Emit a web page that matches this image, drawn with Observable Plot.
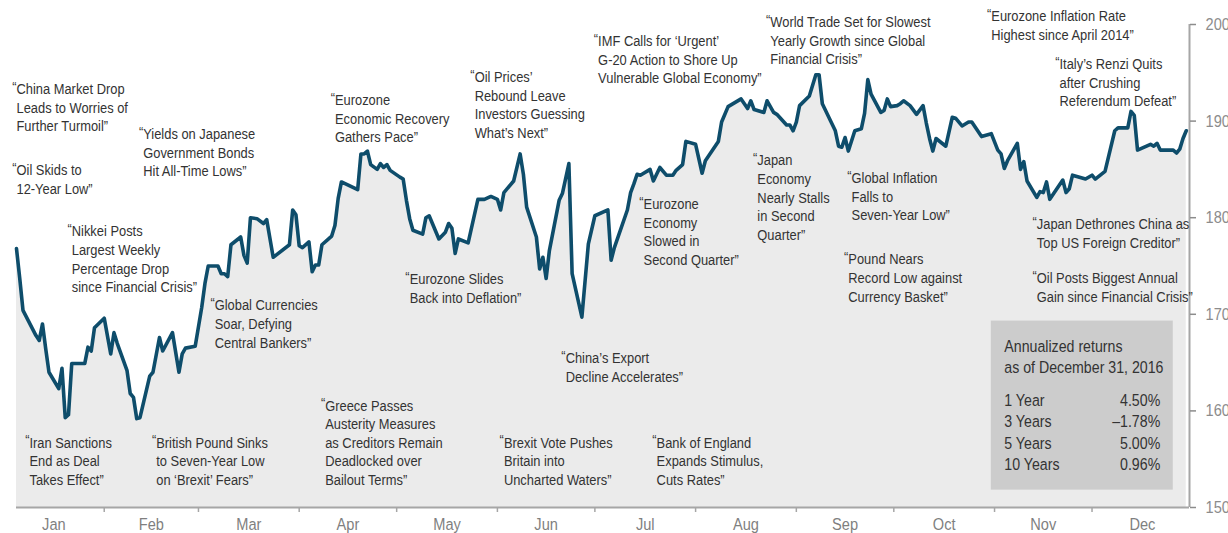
<!DOCTYPE html>
<html>
<head>
<meta charset="utf-8">
<script src="https://cdn.jsdelivr.net/npm/d3@7"></script>
<script src="https://cdn.jsdelivr.net/npm/@observablehq/plot@0.6"></script>
<style>
  html, body { margin: 0; padding: 0; background: #fff; }
  #chart svg { display: block; }
</style>
</head>
<body>
<div id="chart"></div>
<script>
// ---- Series (index level, 2016) ----
const dates = [
  "2016-01-05","2016-01-06","2016-01-07","2016-01-11","2016-01-12","2016-01-13","2016-01-14","2016-01-15",
  "2016-01-18","2016-01-19","2016-01-20","2016-01-21","2016-01-22","2016-01-26","2016-01-27","2016-01-28",
  "2016-01-29","2016-02-01","2016-02-03","2016-02-04","2016-02-05","2016-02-08","2016-02-09","2016-02-10",
  "2016-02-11","2016-02-12","2016-02-15","2016-02-16","2016-02-18","2016-02-19","2016-02-22","2016-02-24",
  "2016-02-25","2016-02-26","2016-02-29","2016-03-02","2016-03-03","2016-03-04","2016-03-07","2016-03-08",
  "2016-03-09","2016-03-10","2016-03-11","2016-03-14","2016-03-15","2016-03-16","2016-03-17","2016-03-19",
  "2016-03-21","2016-03-22","2016-03-24","2016-03-29","2016-03-30","2016-03-31","2016-04-01","2016-04-02",
  "2016-04-04","2016-04-05","2016-04-06","2016-04-07","2016-04-08","2016-04-11","2016-04-12","2016-04-13",
  "2016-04-14","2016-04-19","2016-04-20","2016-04-21","2016-04-22","2016-04-23","2016-04-25","2016-04-26",
  "2016-04-27","2016-04-28","2016-04-29","2016-05-02","2016-05-03","2016-05-04","2016-05-05","2016-05-06",
  "2016-05-09","2016-05-10","2016-05-11","2016-05-14","2016-05-16","2016-05-17","2016-05-18","2016-05-19",
  "2016-05-20","2016-05-23","2016-05-26","2016-05-28","2016-05-30","2016-06-01","2016-06-02","2016-06-03",
  "2016-06-06","2016-06-08","2016-06-09","2016-06-10","2016-06-13","2016-06-14","2016-06-15","2016-06-16",
  "2016-06-17","2016-06-20","2016-06-21","2016-06-23","2016-06-24","2016-06-27","2016-06-29","2016-07-01",
  "2016-07-05","2016-07-06","2016-07-07","2016-07-11","2016-07-12","2016-07-13","2016-07-14","2016-07-15",
  "2016-07-18","2016-07-19","2016-07-21","2016-07-23","2016-07-25","2016-07-26","2016-07-28","2016-07-29",
  "2016-08-01","2016-08-03","2016-08-04","2016-08-08","2016-08-09","2016-08-11","2016-08-15","2016-08-16",
  "2016-08-17","2016-08-18","2016-08-19","2016-08-22","2016-08-23","2016-08-25","2016-08-26","2016-08-29",
  "2016-08-30","2016-08-31","2016-09-01","2016-09-02","2016-09-05","2016-09-07","2016-09-08","2016-09-09",
  "2016-09-12","2016-09-13","2016-09-14","2016-09-15","2016-09-16","2016-09-17","2016-09-19","2016-09-21",
  "2016-09-22","2016-09-23","2016-09-24","2016-09-27","2016-09-28","2016-09-29","2016-09-30","2016-10-02",
  "2016-10-03","2016-10-04","2016-10-06","2016-10-08","2016-10-10","2016-10-11","2016-10-12","2016-10-13",
  "2016-10-14","2016-10-17","2016-10-19","2016-10-20","2016-10-22","2016-10-24","2016-10-25","2016-10-28",
  "2016-10-31","2016-11-02","2016-11-03","2016-11-04","2016-11-05","2016-11-08","2016-11-09","2016-11-10",
  "2016-11-11","2016-11-14","2016-11-15","2016-11-16","2016-11-17","2016-11-18","2016-11-22","2016-11-23",
  "2016-11-24","2016-11-25","2016-11-29","2016-12-01","2016-12-02","2016-12-05","2016-12-08","2016-12-09",
  "2016-12-12","2016-12-13","2016-12-14","2016-12-15","2016-12-19","2016-12-20","2016-12-21","2016-12-22",
  "2016-12-26","2016-12-27","2016-12-28","2016-12-29","2016-12-30"
];
const values = [
  176.8,173.7,170.4,167.8,167.3,169.0,166.4,164.0,
  162.3,164.4,159.3,159.6,164.9,164.9,166.6,166.2,
  168.6,169.6,165.9,168.1,167.0,164.2,161.8,161.4,
  159.2,159.3,163.6,164.0,167.6,166.2,168.1,164.0,
  165.9,166.5,166.7,170.7,173.2,175.0,175.0,174.2,
  174.2,173.9,177.2,178.0,176.1,175.3,180.0,179.9,
  179.4,179.8,175.9,177.2,180.8,180.3,177.1,176.9,
  177.5,174.4,175.1,175.1,177.2,178.1,179.2,182.0,
  183.7,182.9,186.6,186.6,186.9,185.5,185.0,185.6,
  185.2,185.5,184.9,184.2,184.0,181.8,179.9,178.7,
  178.3,180.0,180.2,177.8,178.5,179.4,178.9,176.3,
  177.8,177.4,181.9,181.9,182.2,181.9,180.8,182.6,
  183.8,186.6,184.5,181.1,178.0,174.7,175.9,173.7,
  176.6,181.8,182.5,185.6,174.2,169.7,177.3,180.2,
  180.8,175.6,176.9,180.8,182.6,183.5,184.5,184.4,
  185.0,183.8,185.2,184.4,184.4,184.9,185.5,187.9,
  187.6,184.6,185.9,187.9,189.9,191.5,192.3,191.8,
  191.3,192.1,191.2,190.9,192.1,190.9,190.7,189.6,
  189.6,189.0,189.9,191.6,192.6,194.8,194.8,191.8,
  189.7,189.0,187.4,187.3,188.3,186.9,189.0,189.2,
  190.8,194.3,192.8,190.9,191.1,192.3,191.5,191.6,
  191.8,192.1,191.6,190.7,191.6,189.8,188.2,186.9,
  188.2,187.4,190.4,190.3,189.5,189.9,189.9,188.4,
  188.7,187.0,186.6,185.1,185.9,187.7,185.0,185.8,
  183.8,182.1,182.7,182.6,183.7,181.9,183.9,182.6,
  183.0,184.4,184.0,184.4,184.0,184.8,189.0,189.3,
  189.3,191.0,190.6,187.0,187.6,187.4,187.7,187.0,
  187.0,186.7,187.1,188.2,189.0
];

// ---- Axis ticks ----
const yTicks = [150, 160, 170, 180, 190, 200];
const monthNames = ["Jan","Feb","Mar","Apr","May","Jun","Jul","Aug","Sep","Oct","Nov","Dec"];

// ---- Headline annotations (anchor date, anchor level, text) ----
const noteDates = [
  "2016-01-05","2016-01-05","2016-02-13","2016-01-22","2016-01-09","2016-02-17",
  "2016-03-06","2016-04-12","2016-04-09","2016-05-05","2016-05-25","2016-06-22",
  "2016-06-03","2016-07-20","2016-07-02","2016-07-16","2016-08-24","2016-08-20",
  "2016-09-18","2016-09-17","2016-10-31","2016-11-21","2016-11-14","2016-11-14"
];
const noteLevels = [
  193.94,185.55,189.28,179.23,157.37,157.37,
  171.56,192.8,161.2,174.26,195.18,166.07,
  157.37,157.37,198.91,182.03,200.88,186.58,
  184.72,176.33,201.5,196.53,179.95,174.36
];
const noteTexts = [
  "China Market Drop\nLeads to Worries of\nFurther Turmoil”",
  "Oil Skids to\n12-Year Low”",
  "Yields on Japanese\nGovernment Bonds\nHit All-Time Lows”",
  "Nikkei Posts\nLargest Weekly\nPercentage Drop\nsince Financial Crisis”",
  "Iran Sanctions\nEnd as Deal\nTakes Effect”",
  "British Pound Sinks\nto Seven-Year Low\non ‘Brexit’ Fears”",
  "Global Currencies\nSoar, Defying\nCentral Bankers”",
  "Eurozone\nEconomic Recovery\nGathers Pace”",
  "Greece Passes\nAusterity Measures\nas Creditors Remain\nDeadlocked over\nBailout Terms”",
  "Eurozone Slides\nBack into Deflation”",
  "Oil Prices’\nRebound Leave\nInvestors Guessing\nWhat’s Next”",
  "China’s Export\nDecline Accelerates”",
  "Brexit Vote Pushes\nBritain into\nUncharted Waters”",
  "Bank of England\nExpands Stimulus,\nCuts Rates”",
  "IMF Calls for ‘Urgent’\nG-20 Action to Shore Up\nVulnerable Global Economy”",
  "Eurozone\nEconomy\nSlowed in\nSecond Quarter”",
  "World Trade Set for Slowest\nYearly Growth since Global\nFinancial Crisis”",
  "Japan\nEconomy\nNearly Stalls\nin Second\nQuarter”",
  "Global Inflation\nFalls to\nSeven-Year Low”",
  "Pound Nears\nRecord Low against\nCurrency Basket”",
  "Eurozone Inflation Rate\nHighest since April 2014”",
  "Italy’s Renzi Quits\nafter Crushing\nReferendum Defeat”",
  "Japan Dethrones China as\nTop US Foreign Creditor”",
  "Oil Posts Biggest Annual\nGain since Financial Crisis”"
];

// ---- Annualized returns panel ----
const returnsTitle = ["Annualized returns", "as of December 31, 2016"];
const returnPeriods = ["1 Year", "3 Years", "5 Years", "10 Years"];
const returnValues = ["4.50%", "–1.78%", "5.00%", "0.96%"];

// ---- build ----
const FONT = "'Liberation Sans', Arial, sans-serif";
const CONDENSE = 0.86; // horizontal squeeze to imitate a condensed face
const parse = d3.utcParse("%Y-%m-%d");
const series = dates.map((d, i) => ({date: parse(d), value: values[i]}));
const notes = noteDates.map((d, i) => ({date: parse(d), level: noteLevels[i], text: noteTexts[i]}));

const xStart = parse("2016-01-01"), xEnd = parse("2016-12-31");
const monthStarts = d3.utcMonth.range(parse("2016-02-01"), parse("2016-12-02"));
const monthMids = monthNames.map((m, i) => {
  const a = new Date(Date.UTC(2016, i, 1)), b = new Date(Date.UTC(2016, i + 1, 1));
  return new Date((+a + +b) / 2);
});
const firstDate = series[0].date, lastDate = xEnd;

// panel geometry in data space
const panel = {x1: parse("2016-10-31"), x2: parse("2016-12-26"), y1: 151.8, y2: 169.3};
const panelTextX = parse("2016-11-04");
const panelValueX = parse("2016-12-22");
const titleRows = returnsTitle.map((t, i) => ({t, y: 166.64 - i * 2.17}));
const rows = returnPeriods.map((p, i) => ({p, v: returnValues[i], y: 161.05 - i * 2.21}));

const chart = Plot.plot({
  width: 1228,
  height: 533,
  marginLeft: 3,
  marginRight: 39,
  marginTop: 24,
  marginBottom: 26,
  style: {fontFamily: FONT, background: "#fff", overflow: "visible"},
  x: {type: "utc", domain: [xStart, xEnd]},
  y: {domain: [150, 200]},
  marks: [
    Plot.areaY(series, {x: "date", y1: 150, y2: "value", fill: "#ebebeb"}),
    // x baseline and y axis line
    Plot.ruleY([150], {x1: firstDate, x2: lastDate, stroke: "#a6a6a6", strokeWidth: 2}),
    Plot.ruleX([lastDate], {y1: 150, y2: 200, stroke: "#a6a6a6", strokeWidth: 2}),
    // month boundary ticks
    Plot.axisX({ticks: monthStarts, tickSize: 5, tickFormat: () => "", color: "#a6a6a6", strokeWidth: 1.5, label: null}),
    // month labels
    Plot.axisX({ticks: monthMids, tickSize: 0, tickPadding: 10, tickFormat: (d) => monthNames[d.getUTCMonth()],
      fontSize: 17, color: "#7f7f7f", label: null}),
    // y axis
    Plot.axisY({anchor: "right", ticks: yTicks, tickSize: 6, tickPadding: 10, fontSize: 17,
      color: "#8c8c8c", strokeWidth: 1.5, label: null}),
    // the index line
    Plot.line(series, {x: "date", y: "value", stroke: "#0e4d6b", strokeWidth: 3.6,
      strokeLinejoin: "round", strokeLinecap: "round"}),
    // headline annotations
    Plot.text(notes, {x: "date", y: "level", text: "text", textAnchor: "start", lineAnchor: "top",
      lineHeight: 1.24, fontSize: 15, fill: "#333", dy: -2}),
    Plot.text(notes, {x: "date", y: "level", text: () => "“", textAnchor: "end", lineAnchor: "top",
      fontSize: 15, fill: "#333", dy: -2}),
    // returns panel
    Plot.rect([panel], {x1: "x1", x2: "x2", y1: "y1", y2: "y2", fill: "#cccccc"}),
    Plot.text(titleRows, {x: panelTextX, y: "y", text: "t", textAnchor: "start", lineAnchor: "middle",
      fontSize: 16.5, fill: "#333"}),
    Plot.text(rows, {x: panelTextX, y: "y", text: "p", textAnchor: "start", lineAnchor: "middle",
      fontSize: 16.5, fill: "#333"}),
    Plot.text(rows, {x: panelValueX, y: "y", text: "v", textAnchor: "end", lineAnchor: "middle",
      fontSize: 16.5, fill: "#333"})
  ]
});

// squeeze every text horizontally around its own anchor (condensed look)
chart.querySelectorAll("text").forEach((t) => {
  const tr = t.getAttribute("transform");
  if (tr) {
    t.setAttribute("transform", tr + ` scale(${CONDENSE},1)`);
  } else {
    const x = +(t.getAttribute("x") || 0), y = +(t.getAttribute("y") || 0);
    t.setAttribute("transform", `translate(${x},${y}) scale(${CONDENSE},1) translate(${-x},${-y})`);
  }
});
document.getElementById("chart").appendChild(chart);
</script>
</body>
</html>
